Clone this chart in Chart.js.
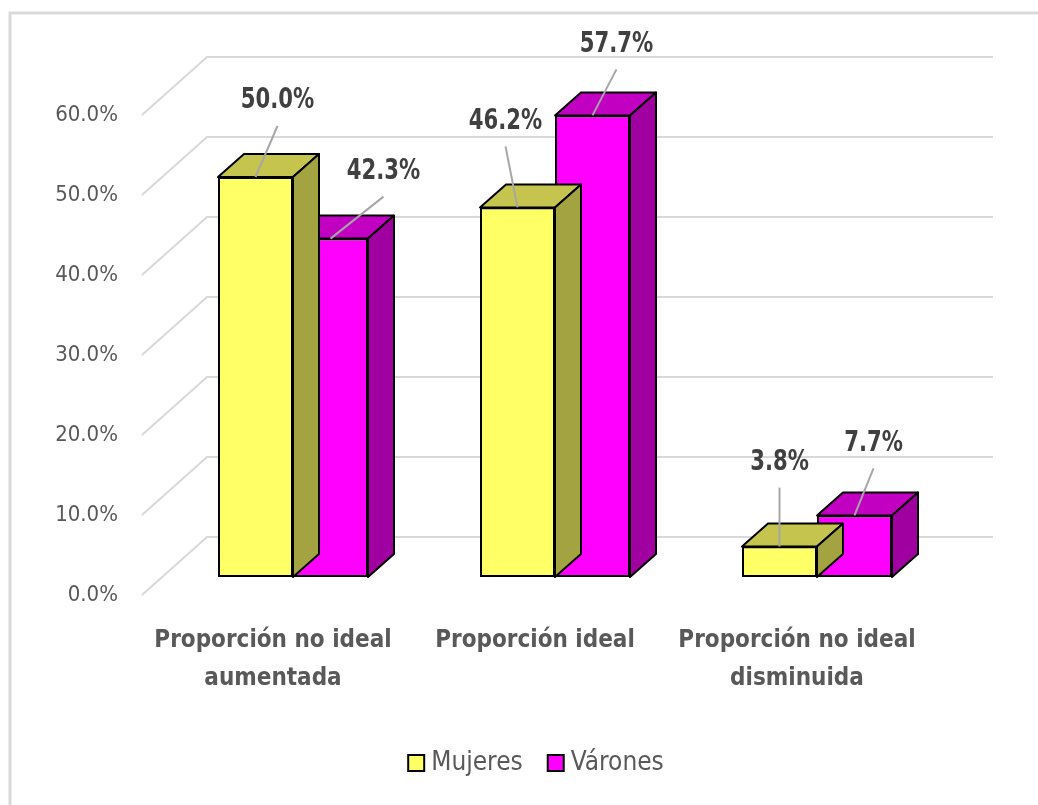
<!DOCTYPE html>
<html>
<head>
<meta charset="utf-8">
<script src="https://cdn.jsdelivr.net/npm/chart.js@4.4.1/dist/chart.umd.min.js"></script>
<style>
  html, body { margin: 0; padding: 0; background: #fff; }
  #wrap { width: 1038px; height: 805px; }
</style>
</head>
<body>
<div id="wrap"><canvas id="myChart"></canvas></div>
<script>
const categories = [['Proporción no ideal', 'aumentada'], ['Proporción ideal'], ['Proporción no ideal', 'disminuida']];
const seriesNames = ['Mujeres', 'Várones'];
const mujeres = [50.0, 46.2, 3.8];
const varones = [42.3, 57.7, 7.7];
const yTicks = [0, 10, 20, 30, 40, 50, 60];

// where each value label sits relative to the top of its bar (dx, dy)
const labelShift = [
    [[22, -76], [-12, -86], [0, -84]],
    [[53, -67], [24, -71], [19, -72]]
];

const frontColor = ['#FFFF66', '#FF00FF'];
const topColor = ['#C4C44E', '#C200C2'];
const sideColor = ['#A3A342', '#A000A0'];

const FONT = "'Liberation Sans Narrow', 'DejaVu Sans Condensed', 'Open Sans', sans-serif";
const DEPTH_X = 26, DEPTH_Y = 23;   // depth of the boxes
const WALL_X = 45, WALL_Y = 40;     // back wall offset
const FLOOR_X = -20, FLOOR_Y = 18;  // front edge of the floor
const LEGEND_X = 536, LEGEND_Y = 763;

const ctx = document.getElementById('myChart');

const box3d = {
    id: 'box3d',
    beforeDraw(chart) {
        const c = chart.ctx;
        c.save();
        c.fillStyle = '#fff';
        c.fillRect(0, 0, chart.width, chart.height);
        c.strokeStyle = '#D9D9D9';
        c.lineWidth = 3;
        c.beginPath();
        c.moveTo(10, chart.height + 5);
        c.lineTo(10, 13);
        c.lineTo(chart.width + 5, 13);
        c.stroke();
        c.restore();
    },
    beforeDatasetsDraw(chart) {
        const c = chart.ctx;
        const y = chart.scales.y;
        const { left, right } = chart.chartArea;
        c.save();
        c.strokeStyle = '#D9D9D9';
        c.lineWidth = 2;
        y.ticks.forEach(t => {
            const py = y.getPixelForValue(t.value);
            c.beginPath();
            c.moveTo(left + FLOOR_X, py + FLOOR_Y);
            c.lineTo(left + WALL_X, py - WALL_Y);
            c.lineTo(right + WALL_X, py - WALL_Y);
            c.stroke();
        });
        c.restore();
    },
    beforeDatasetDraw(chart, args) {
        const c = chart.ctx;
        const i = args.index;
        c.save();
        c.strokeStyle = '#000';
        c.lineWidth = 2;
        c.lineJoin = 'round';
        args.meta.data.forEach(bar => {
            const { x, y, base, width } = bar.getProps(['x', 'y', 'base', 'width'], true);
            const l = x - width / 2, r = x + width / 2;
            // top face
            c.beginPath();
            c.moveTo(l, y);
            c.lineTo(r, y);
            c.lineTo(r + DEPTH_X, y - DEPTH_Y);
            c.lineTo(l + DEPTH_X, y - DEPTH_Y);
            c.closePath();
            c.fillStyle = topColor[i];
            c.fill();
            c.stroke();
            // right side
            c.beginPath();
            c.moveTo(r, y);
            c.lineTo(r + DEPTH_X, y - DEPTH_Y);
            c.lineTo(r + DEPTH_X, base - DEPTH_Y);
            c.lineTo(r, base);
            c.closePath();
            c.fillStyle = sideColor[i];
            c.fill();
            c.stroke();
        });
        c.restore();
    },
    afterDatasetsDraw(chart) {
        const c = chart.ctx;
        chart.data.datasets.forEach((ds, i) => {
            chart.getDatasetMeta(i).data.forEach((bar, j) => {
                const [dx, dy] = labelShift[i][j];
                const lx = bar.x + dx, ly = bar.y + dy;
                c.save();
                c.strokeStyle = '#A6A6A6';
                c.lineWidth = 2;
                c.beginPath();
                c.moveTo(lx, ly + 25);
                c.lineTo(bar.x, bar.y);
                c.stroke();
                // narrow bold label
                c.translate(lx, ly);
                c.scale(0.84, 1);
                c.font = 'bold 28px ' + FONT;
                c.textAlign = 'center';
                c.textBaseline = 'middle';
                c.fillStyle = '#404040';
                c.fillText(ds.data[j].toFixed(1) + '%', 0, 0);
                c.restore();
            });
        });
    },
    afterDraw(chart) {
        const c = chart.ctx;
        const items = chart.data.datasets;
        const box = 16, gap = 7, space = 25;
        c.save();
        c.font = '26px ' + FONT;
        c.textBaseline = 'middle';
        const widths = items.map(ds => c.measureText(ds.label).width);
        const total = widths.reduce((a, w) => a + box + gap + w, 0) + space * (items.length - 1);
        let x = LEGEND_X - total / 2;
        items.forEach((ds, i) => {
            c.fillStyle = ds.backgroundColor;
            c.fillRect(x, LEGEND_Y - box / 2, box, box);
            c.strokeStyle = '#000';
            c.lineWidth = 2;
            c.strokeRect(x, LEGEND_Y - box / 2, box, box);
            c.fillStyle = '#595959';
            c.fillText(ds.label, x + box + gap, LEGEND_Y);
            x += box + gap + widths[i] + space;
        });
        c.restore();
    }
};

new Chart(ctx, {
    type: 'bar',
    data: {
        labels: categories,
        datasets: [
            { label: seriesNames[0], data: mujeres, backgroundColor: frontColor[0] },
            { label: seriesNames[1], data: varones, backgroundColor: frontColor[1] }
        ]
    },
    options: {
        responsive: true,
        maintainAspectRatio: false,
        animation: false,
        datasets: {
            bar: {
                borderColor: '#000',
                borderWidth: 2,
                borderSkipped: false,
                categoryPercentage: 0.5725,
                barPercentage: 1
            }
        },
        layout: { padding: { left: 0, right: 90, top: 97, bottom: 0 } },
        scales: {
            x: {
                grid: { display: false, drawTicks: false },
                border: { display: false },
                ticks: {
                    color: '#595959',
                    font: { family: FONT, size: 24, weight: 'bold', lineHeight: 1.58 },
                    padding: 45,
                    labelOffset: FLOOR_X,
                    maxRotation: 0
                },
                afterFit(s) { s.height = 228; }
            },
            y: {
                min: 0,
                max: 60,
                afterBuildTicks(s) { s.ticks = yTicks.map(v => ({ value: v })); },
                grid: { display: false, drawTicks: false },
                border: { display: false },
                ticks: {
                    color: '#595959',
                    font: { family: FONT, size: 22 },
                    padding: 44,
                    labelOffset: FLOOR_Y,
                    callback: v => v.toFixed(1) + '%'
                },
                afterFit(s) { s.width = 162; }
            }
        },
        plugins: {
            legend: { display: false },
            tooltip: { enabled: false }
        }
    },
    plugins: [box3d]
});
</script>
</body>
</html>
